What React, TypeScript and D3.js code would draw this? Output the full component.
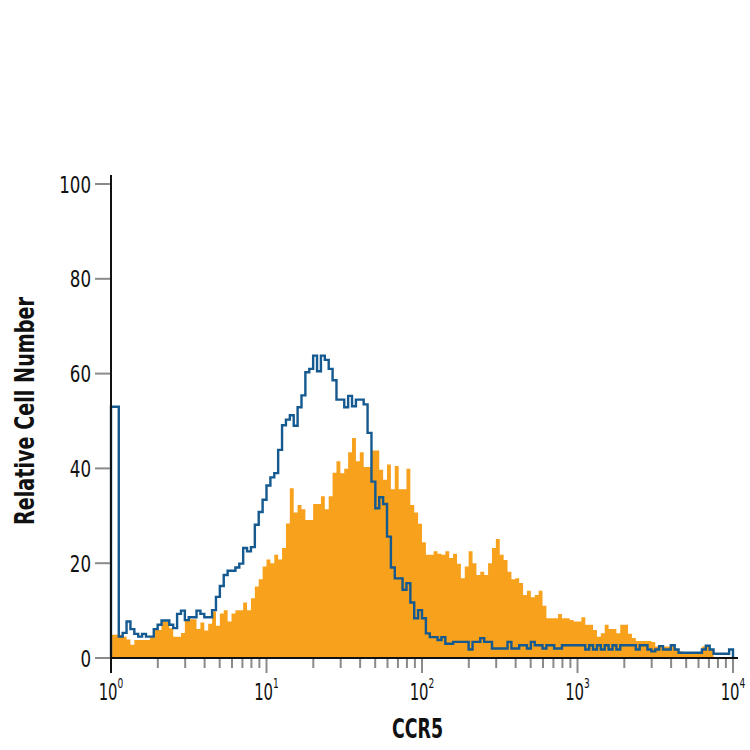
import * as d3 from "d3";
import { useEffect, useRef } from "react";

// 40 bins per decade, 10^0 .. 10^4
const BINS_PER_DECADE = 40;
const DECADES = 4;

// CCR5 stained cells (filled orange)
const STAINED: number[] = [
  4.9, 4.9, 4.9, 4.5, 3.9, 2.8, 3.8, 3.8, 3.8, 3.8,
  4.4, 5.9, 5.9, 7.7, 7.7, 6.3, 4.5, 4.5, 5.3, 8.0,
  8.2, 8.2, 6.1, 7.5, 5.8, 7.2, 9.8, 6.8, 9.4, 10.1,
  7.7, 9.4, 10.1, 10.1, 11.7, 10.1, 12.6, 15.1, 16.6, 19.3,
  20.8, 20.0, 21.8, 20.8, 23.2, 28.4, 35.8, 30.7, 32.3, 31.4,
  29.1, 29.1, 32.5, 32.5, 34.1, 31.4, 34.1, 39.1, 41.5, 39.0,
  39.9, 43.4, 46.4, 41.5, 43.4, 40.3, 40.3, 43.8, 43.8, 39.7,
  37.6, 40.8, 35.6, 40.5, 35.6, 35.6, 39.9, 32.3, 30.7, 28.3,
  24.4, 21.8, 21.8, 22.5, 22.0, 21.8, 22.5, 21.1, 22.0, 19.9,
  16.8, 19.3, 22.5, 20.0, 17.5, 18.2, 17.5, 20.0, 23.2, 25.1,
  21.8, 20.7, 18.2, 16.6, 16.8, 15.8, 13.3, 14.2, 12.8, 13.3,
  14.2, 11.0, 8.4, 8.4, 8.4, 9.3, 8.4, 8.4, 8.0, 7.7,
  7.7, 8.6, 7.0, 7.0, 5.9, 4.5, 5.2, 7.0, 6.1, 6.1,
  5.2, 7.0, 7.0, 5.1, 4.2, 3.6, 3.6, 3.6, 3.6, 3.4,
  2.4, 2.4, 2.4, 2.4, 2.7, 1.8, 1.4, 1.1, 1.1, 1.1,
  1.1, 1.1, 2.4, 2.4, 1.8, 0, 0, 0, 0, 0,
];

// isotype control (blue outline)
const CONTROL: number[] = [
  53, 53, 4.5, 5.3, 7.7, 6.1, 5.1, 4.5, 5.1, 4.5,
  4.5, 6.1, 7.0, 7.9, 7.9, 7.0, 6.3, 9.3, 10.0, 8.0,
  8.6, 8.6, 10.0, 9.3, 8.6, 8.6, 10.1, 12.9, 15.2, 17.5,
  18.4, 18.4, 19.1, 19.9, 23.2, 22.5, 23.4, 28.1, 30.8, 33.4,
  36.4, 38.1, 39.0, 43.9, 49.1, 50.3, 51.2, 49.0, 52.9, 55.4,
  60.3, 61.0, 63.8, 60.5, 63.8, 62.9, 61.0, 58.6, 54.5, 54.5,
  52.9, 55.3, 53.1, 54.5, 54.5, 53.5, 47.5, 37.2, 31.6, 33.9,
  32.5, 25.6, 19.1, 16.8, 16.8, 14.4, 15.8, 11.7, 8.4, 10.1,
  8.4, 5.2, 4.4, 4.4, 3.8, 4.4, 3.0, 3.0, 3.4, 3.4,
  3.4, 3.4, 1.8, 3.4, 3.4, 4.2, 3.4, 3.4, 2.0, 2.0,
  2.0, 2.0, 3.4, 2.0, 2.0, 2.7, 2.7, 2.0, 3.4, 2.7,
  2.7, 2.0, 2.7, 2.7, 2.0, 2.0, 2.7, 2.7, 2.7, 2.7,
  2.7, 2.7, 1.8, 2.7, 1.8, 2.7, 1.8, 2.7, 1.8, 2.7,
  1.8, 2.7, 2.7, 2.7, 2.7, 1.8, 2.7, 2.7, 1.8, 1.4,
  1.8, 2.5, 1.8, 1.8, 2.7, 1.8, 1.1, 1.1, 1.1, 1.1,
  1.1, 1.1, 1.8, 2.6, 1.8, 0.9, 0.9, 0.9, 0.9, 1.8,
];

const Y_TICKS = [0, 20, 40, 60, 80, 100];
const X_DECADE_EXPONENTS = ["0", "1", "2", "3", "4"];
const X_TITLE = "CCR5";
const Y_TITLE = "Relative Cell Number";

const FONT = "'DejaVu Sans Condensed', 'Liberation Sans Narrow', sans-serif";

export default function App() {
  const ref = useRef<SVGSVGElement | null>(null);

  useEffect(() => {
    if (!ref.current) return;
    const svg = d3.select(ref.current);
    svg.selectAll("*").remove();

    const x = d3.scaleLog().domain([1, 1e4]).range([111, 733]);
    const y = d3.scaleLinear().domain([0, 100]).range([658, 184]);

    const nBins = BINS_PER_DECADE * DECADES;
    const edges = d3.range(nBins + 1).map((i) => Math.pow(10, i / BINS_PER_DECADE));

    const steps = (vals: number[]) => {
      const pts: [number, number][] = [];
      vals.forEach((v, i) => {
        pts.push([edges[i], v]);
        pts.push([edges[i + 1], v]);
      });
      return pts;
    };

    // filled histogram
    const area = d3
      .area<[number, number]>()
      .x((d) => x(d[0]))
      .y0(y(0))
      .y1((d) => y(d[1]));
    svg.append("path").attr("d", area(steps(STAINED))).attr("fill", "#F7A11D");

    // outline histogram
    const ctrl = steps(CONTROL);
    ctrl.unshift([edges[0], 0]);
    ctrl.push([edges[nBins], 0]);
    const line = d3
      .line<[number, number]>()
      .x((d) => x(d[0]))
      .y((d) => y(d[1]));
    svg
      .append("path")
      .attr("d", line(ctrl))
      .attr("fill", "none")
      .attr("stroke", "#14598F")
      .attr("stroke-width", 2.4)
      .attr("stroke-linejoin", "miter");

    // y axis
    const gy = svg.append("g");
    gy.selectAll("line.tick")
      .data(Y_TICKS)
      .join("line")
      .attr("x1", 95)
      .attr("x2", 111)
      .attr("y1", (d) => y(d))
      .attr("y2", (d) => y(d))
      .attr("stroke", "#8a8a8a")
      .attr("stroke-width", 2);
    gy.selectAll("text")
      .data(Y_TICKS)
      .join("text")
      .attr("x", 91)
      .attr("y", (d) => y(d) + 8.5)
      .attr("text-anchor", "end")
      .attr("font-family", FONT)
      .attr("font-size", 23)
      .attr("fill", "#111")
      .attr("textLength", (d) => String(d).length * 10.6)
      .attr("lengthAdjust", "spacingAndGlyphs")
      .text((d) => String(d));

    // x axis ticks
    const minor: number[] = [];
    for (let dcd = 0; dcd < DECADES; dcd++) {
      for (let k = 2; k <= 9; k++) minor.push(k * Math.pow(10, dcd));
    }
    const major = X_DECADE_EXPONENTS.map((e) => Math.pow(10, +e));
    const gx = svg.append("g");
    gx.selectAll("line.minor")
      .data(minor)
      .join("line")
      .attr("class", "minor")
      .attr("x1", (d) => x(d))
      .attr("x2", (d) => x(d))
      .attr("y1", 658)
      .attr("y2", 668)
      .attr("stroke", "#8a8a8a")
      .attr("stroke-width", 2);
    gx.selectAll("line.major")
      .data(major)
      .join("line")
      .attr("class", "major")
      .attr("x1", (d) => x(d))
      .attr("x2", (d) => x(d))
      .attr("y1", 658)
      .attr("y2", 673)
      .attr("stroke", (d, i) => (i === 0 ? "#111" : "#8a8a8a"))
      .attr("stroke-width", 2);

    // tick labels: "10" with a superscript exponent, narrowed horizontally
    const labels = gx
      .selectAll("text.decade")
      .data(X_DECADE_EXPONENTS)
      .join("text")
      .attr("class", "decade")
      .attr("transform", (d) => `translate(${x(Math.pow(10, +d))},700) scale(0.72,1)`)
      .attr("text-anchor", "middle")
      .attr("font-family", FONT)
      .attr("font-size", 23)
      .attr("fill", "#111");
    labels.append("tspan").text("10");
    labels
      .append("tspan")
      .attr("dy", -12)
      .attr("font-size", 14)
      .text((d) => d);

    // axis lines
    svg
      .append("line")
      .attr("x1", 111)
      .attr("x2", 111)
      .attr("y1", 175)
      .attr("y2", 659)
      .attr("stroke", "#111")
      .attr("stroke-width", 2);
    svg
      .append("line")
      .attr("x1", 110)
      .attr("x2", 738)
      .attr("y1", 658)
      .attr("y2", 658)
      .attr("stroke", "#111")
      .attr("stroke-width", 2);

    // titles
    svg
      .append("text")
      .attr("x", 392)
      .attr("y", 738)
      .attr("font-family", FONT)
      .attr("font-weight", "bold")
      .attr("font-size", 26)
      .attr("fill", "#111")
      .attr("textLength", 51)
      .attr("lengthAdjust", "spacingAndGlyphs")
      .text(X_TITLE);
    svg
      .append("text")
      .attr("transform", "translate(34,525) rotate(-90)")
      .attr("font-family", FONT)
      .attr("font-weight", "bold")
      .attr("font-size", 26)
      .attr("fill", "#111")
      .attr("textLength", 228)
      .attr("lengthAdjust", "spacingAndGlyphs")
      .text(Y_TITLE);
  }, []);

  return (
    <svg
      ref={ref}
      width={750}
      height={750}
      style={{ position: "absolute", left: 0, top: 0, background: "#fff" }}
    />
  );
}
